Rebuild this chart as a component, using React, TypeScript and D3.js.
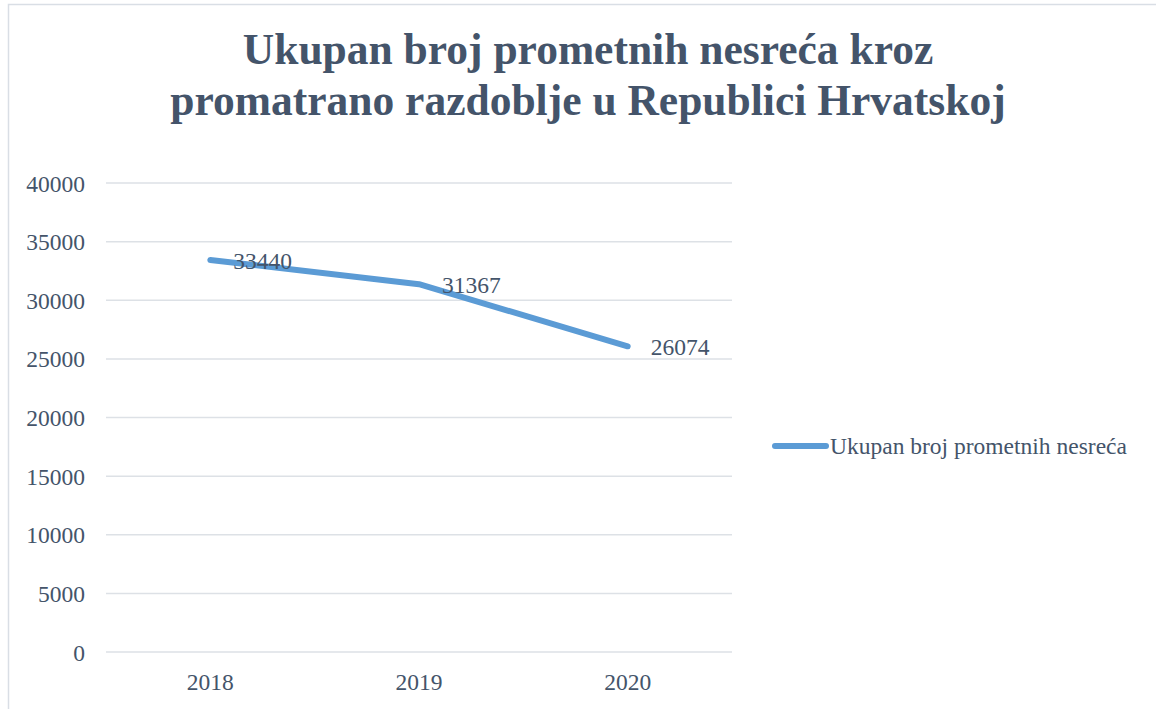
import React, { useEffect, useRef } from "react";
import * as d3 from "d3";

// chart data
const years = ["2018", "2019", "2020"];
const accidents = [33440, 31367, 26074];
const yTicks = [0, 5000, 10000, 15000, 20000, 25000, 30000, 35000, 40000];
const seriesName = "Ukupan broj prometnih nesreća";
const titleLines = ["Ukupan broj prometnih nesreća kroz", "promatrano razdoblje u Republici Hrvatskoj"];

const W = 1156;
const H = 709;
const textColor = "#44546A";
const gridColor = "#DDE1E6";
const lineColor = "#5B9BD5";
const font = "'Liberation Serif', 'Times New Roman', serif";
const labelSize = 23.5;

export default function App() {
  const ref = useRef<SVGSVGElement>(null);

  useEffect(() => {
    const svg = d3.select(ref.current);
    svg.selectAll("*").remove();

    // outer chart frame
    svg.append("rect")
      .attr("x", 8.5).attr("y", 4.5)
      .attr("width", 1170).attr("height", 720)
      .attr("fill", "white")
      .attr("stroke", "#D9DEE5")
      .attr("stroke-width", 1.5);

    // title
    const title = svg.append("text")
      .attr("text-anchor", "middle")
      .attr("font-family", font)
      .attr("font-weight", "bold")
      .attr("font-size", 43.5)
      .attr("fill", textColor);
    titleLines.forEach((t, i) => {
      title.append("tspan").attr("x", 588).attr("y", 64 + i * 51).text(t);
    });

    const left = 106, right = 732, top = 183, bottom = 652;

    const x = d3.scaleBand().domain(years).range([left, right]);
    const y = d3.scaleLinear().domain([0, 40000]).range([bottom, top]);

    // gridlines
    svg.append("g").selectAll("line")
      .data(yTicks)
      .join("line")
      .attr("x1", left).attr("x2", right)
      .attr("y1", d => y(d)).attr("y2", d => y(d))
      .attr("stroke", gridColor)
      .attr("stroke-width", 1.5);

    // y axis labels
    svg.append("g").selectAll("text")
      .data(yTicks)
      .join("text")
      .attr("x", 85)
      .attr("y", d => y(d) + 8.5)
      .attr("text-anchor", "end")
      .attr("font-family", font)
      .attr("font-size", labelSize)
      .attr("fill", textColor)
      .text(d => d);

    // x axis labels
    svg.append("g").selectAll("text")
      .data(years)
      .join("text")
      .attr("x", d => x(d)! + x.bandwidth() / 2)
      .attr("y", 690)
      .attr("text-anchor", "middle")
      .attr("font-family", font)
      .attr("font-size", labelSize)
      .attr("fill", textColor)
      .text(d => d);

    const pts: [number, number][] = years.map((yr, i) => [x(yr)! + x.bandwidth() / 2, y(accidents[i])]);

    svg.append("path")
      .attr("d", d3.line()(pts))
      .attr("fill", "none")
      .attr("stroke", lineColor)
      .attr("stroke-width", 6)
      .attr("stroke-linecap", "round")
      .attr("stroke-linejoin", "round");

    // data labels
    svg.append("g").selectAll("text")
      .data(pts)
      .join("text")
      .attr("x", d => d[0] + 23)
      .attr("y", d => d[1] + 9)
      .attr("font-family", font)
      .attr("font-size", labelSize)
      .attr("fill", textColor)
      .text((d, i) => accidents[i]);

    // legend
    svg.append("line")
      .attr("x1", 775).attr("x2", 826)
      .attr("y1", 446).attr("y2", 446)
      .attr("stroke", lineColor)
      .attr("stroke-width", 6)
      .attr("stroke-linecap", "round");
    svg.append("text")
      .attr("x", 830).attr("y", 454)
      .attr("font-family", font)
      .attr("font-size", labelSize)
      .attr("fill", textColor)
      .text(seriesName);
  }, []);

  return (
    <svg ref={ref} width={W} height={H}
      style={{ position: "absolute", left: 0, top: 0, background: "white" }} />
  );
}
